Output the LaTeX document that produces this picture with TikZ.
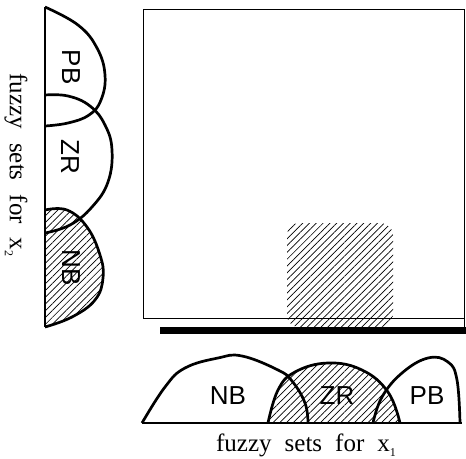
\documentclass[tikz,border=0pt]{standalone}
\usepackage{fontspec}
\setmainfont{Liberation Serif}
\newfontfamily\labfont{Liberation Sans}
\usetikzlibrary{patterns.meta}
\begin{document}
\begin{tikzpicture}[x=1pt,y=-1pt,
  curve/.style={line width=2.7pt, line join=round},
  axisline/.style={line width=1.4pt},
  hatch/.style={pattern={Lines[angle=45,distance=4.8pt,line width=0.7pt]}},
  lab/.style={font=\labfont\fontsize{26}{26}\selectfont, inner sep=0pt},
  capt/.style={font=\fontsize{25}{25}\selectfont, inner sep=0pt}]
\useasboundingbox (0,0) rectangle (466,458);

% ---- left fuzzy sets (x2)
\path[hatch] plot[smooth, tension=0.7] coordinates {(45,210) (67,210) (87,227) (100,255) (103,278) (95,300) (72,317) (45,327)} -- cycle;
\draw[axisline] (45,7) -- (45,327);
\draw[curve] plot[smooth, tension=0.7] coordinates {(45,7) (78,25) (97,48) (105,75) (101,100) (89,115) (68,123) (45,126)};
\draw[curve] plot[smooth, tension=0.7] coordinates {(45,95) (68,96) (90,106) (105,125) (112,150) (108,182) (92,207) (70,225) (45,233)};
\draw[curve] plot[smooth, tension=0.7] coordinates {(45,210) (67,210) (87,227) (100,255) (103,278) (95,300) (72,317) (45,327)};
\node[lab, rotate=-90] (pb2) at (71,67) {PB};
\node[lab, rotate=-90] (zr2) at (70,157) {ZR};
\node[lab, rotate=-90] (nb2) at (71,268) {NB};
\node[capt, rotate=-90] (cap2) at (16,165) {fuzzy\hspace{14pt}sets\hspace{14pt}for\hspace{14pt}x\raisebox{-0.2em}{\fontsize{12}{12}\selectfont 2}};

% ---- square
\path[hatch, rounded corners=12pt] (287,327) -- (287,223) -- (393,223) -- (393,327) -- cycle;
\draw[line width=0.9pt] (143,9) rectangle (464,318);
\draw[line width=0.9pt] (464,318) -- (464,328);
\fill (160,327) rectangle (466,334);

% ---- bottom fuzzy sets (x1)
\path[hatch] plot[smooth, tension=0.7] coordinates {(268,423) (278,390) (295,372) (328,363) (362,370) (388,392) (400,423)} -- cycle;
\draw[axisline] (142,423) -- (462,423);
\draw[curve] plot[smooth, tension=0.7] coordinates {(142,423) (165,387) (185,368) (218,358) (242,356) (278,370) (292,381) (305,403) (308,423)};
\draw[curve] plot[smooth, tension=0.7] coordinates {(268,423) (278,390) (295,372) (328,363) (362,370) (388,392) (400,423)};
\draw[curve] plot[smooth, tension=0.7] coordinates {(373,423) (382,397) (402,373) (428,358) (448,362) (457,380) (460,423)};
\node[lab] (nb1) at (228,396) {NB};
\node[lab] (zr1) at (337,396) {ZR};
\node[lab] (pb1) at (427,396) {PB};
\node[capt] (cap1) at (306,445) {fuzzy\hspace{13pt}sets\hspace{13pt}for\hspace{13pt}x\raisebox{-0.2em}{\fontsize{12}{12}\selectfont 1}};
\end{tikzpicture}
\end{document}
